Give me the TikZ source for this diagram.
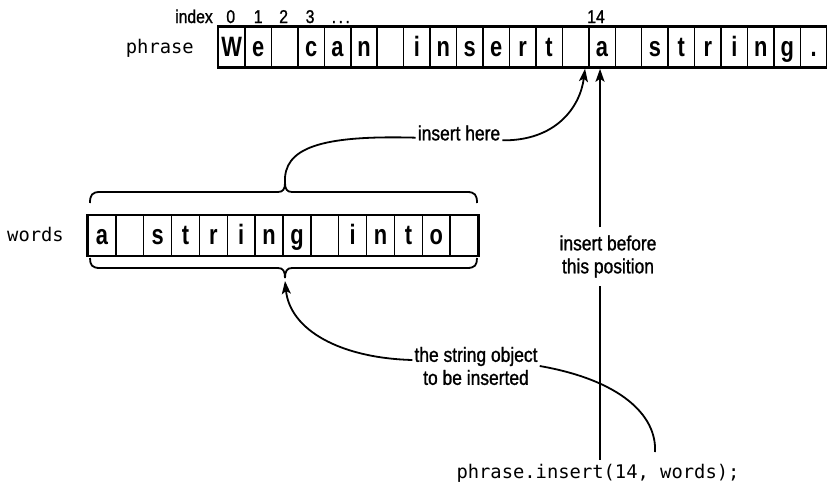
\documentclass[tikz,border=0pt]{standalone}
\usepackage{fontspec}
\setmainfont{Liberation Sans}[FakeStretch=0.85]
\newfontfamily\lblfont{Liberation Sans}[FakeStretch=0.85,FakeBold=1.2]
\newfontfamily\cellfont{Liberation Sans Bold}[FakeStretch=0.78]
\newfontfamily\monofnt{DejaVu Sans Mono}
\usetikzlibrary{arrows.meta,calc}
\tikzset{
  cellp/.style={draw, line width=1.5pt, minimum width=26.45pt, minimum height=40pt, inner sep=0pt, text height=18pt, text depth=0pt, font=\cellfont\fontsize{28}{28}\selectfont},
  cellw/.style={cellp, minimum width=27.86pt},
  lbl/.style={font=\lblfont\fontsize{20.5}{23}\selectfont, align=center, inner sep=2pt},
  idx/.style={font=\lblfont\fontsize{18.5}{19}\selectfont, inner sep=0pt, anchor=base},
  codef/.style={font=\monofnt\fontsize{18.8}{20}\selectfont},
  conn/.style={line width=1.8pt},
  arr/.style={conn, -{Stealth[length=13pt,width=9pt,inset=3pt]}},
  brc/.style={line width=1.8pt},
  outer/.style={line width=2.2pt}
}
\begin{document}
\begin{tikzpicture}[x=1pt,y=-1pt]
\useasboundingbox (0,0) rectangle (827,488);
\clip (0,0) rectangle (827,488);
% phrase row
\foreach \c [count=\i from 0] in {W,e,{},c,a,n,{},i,n,s,e,r,t,{},a,{},s,t,r,i,n,g,.}
  \node[cellp] (p\i) at ({218.5+26.45*\i+13.225},47) {\c};
\draw[outer] (p0.north west) rectangle (p22.south east);
% words row
\foreach \c [count=\i from 0] in {a,{},s,t,r,i,n,g,{},i,n,t,o,{}}
  \node[cellw] (w\i) at ({88+27.86*\i+13.93},235.5) {\c};
\draw[outer] (w0.north west) rectangle (w13.south east);
% labels
\node[codef, anchor=base east, inner sep=0pt] (phr) at (194,53) {phrase};
\node[codef, anchor=base west, inner sep=0pt] (wrd) at (7,241) {words};
\node[idx, anchor=base east] (ix) at (213,23) {index};
\node[idx] (i0) at ($(p0.center)+(-1,-24)$) {0};
\node[idx] (i1) at ($(p1.center)+(0,-24)$) {1};
\node[idx] (i2) at ($(p2.center)+(-1,-24)$) {2};
\node[idx] (i3) at ($(p3.center)+(-1,-24)$) {3};
\node[idx, anchor=base west] (i4) at ($(p4.center)+(-6,-24)$) {.\hspace{2.5pt}.\hspace{2.5pt}.};
\node[idx] (i14) at ($(p14.center)+(-6,-24)$) {14};
% braces
\coordinate (ubt) at (285,183);
\coordinate (lbt) at (285,278);
\draw[brc] (90,203) .. controls (90,195) and (92,192) .. (100,192) -- (278,192)
  .. controls (283,192) and (285,189) .. (ubt)
  .. controls (285,189) and (287,192) .. (292,192) -- (467,192)
  .. controls (475,192) and (477,195) .. (477,203);
\draw[brc] (90,258) .. controls (90,265) and (92,268) .. (100,268) -- (278,268)
  .. controls (283,268) and (285,271) .. (lbt)
  .. controls (285,271) and (287,268) .. (292,268) -- (467,268)
  .. controls (475,268) and (477,265) .. (477,258);
% texts
\node[lbl] (ih) at (459,133) {insert here};
\node[lbl, inner sep=8pt] (ib) at (608,256.5) {insert before\\this position};
\node[lbl] (so) at (476,366) {the string object\\to be inserted};
\node[codef, inner sep=4pt] (cd) at (598,473) {phrase.insert(14, words);};
\coordinate (cend) at (655,452);
% connectors
\draw[conn] (ubt) .. controls (283,148) and (320,135) .. (ih.mid west);
\draw[arr] (ih.base east) .. controls (555,141) and (580,108) .. ($(p14.south west)+(-3,1)$);
\draw[conn] ($(p14.south |- cd.north)+(-2,0)$) -- ($(p14.south |- ib.south)+(-2,0)$);
\draw[arr] ($(p14.south |- ib.north)+(-2,0)$) -- ($(p14.south)+(-2,1)$);
\draw[arr] ($(so.west)+(0,-6)$) .. controls (340,358) and (290,330) .. ($(lbt)+(0,3)$);
\draw[conn] (so.east) .. controls (620,380) and (657,415) .. (cend);
\end{tikzpicture}
\end{document}
